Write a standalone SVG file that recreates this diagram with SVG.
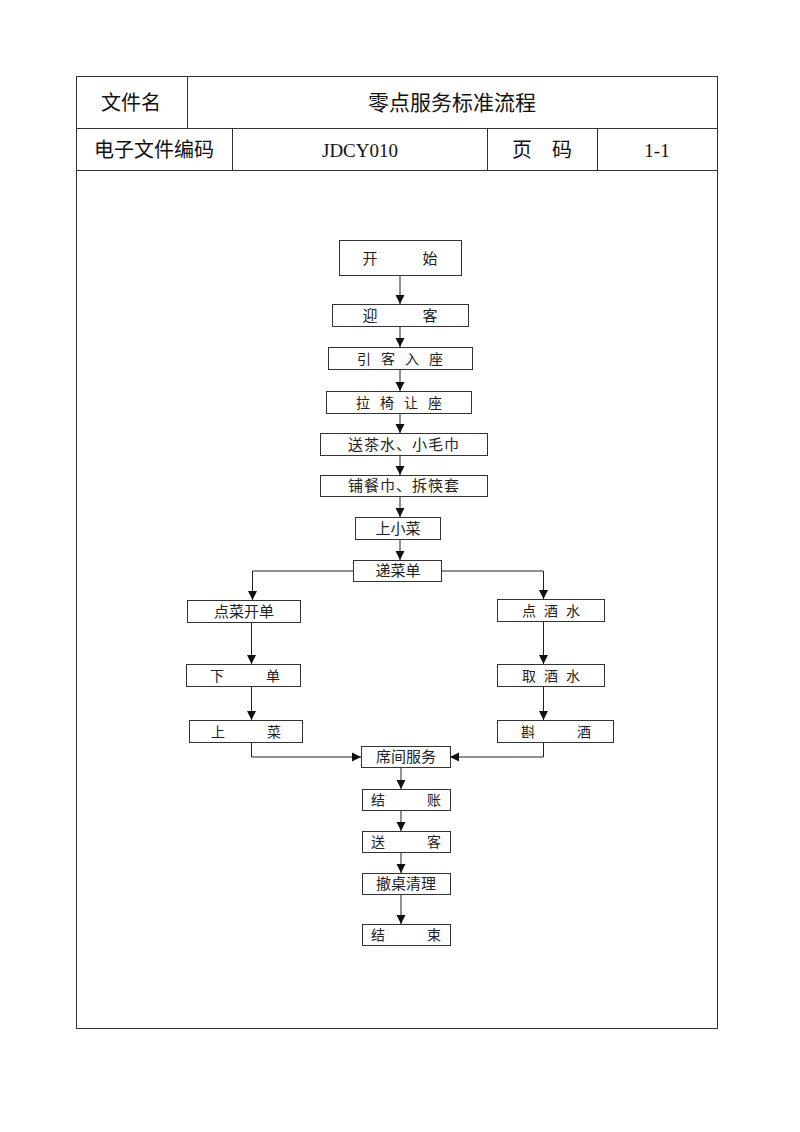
<svg xmlns="http://www.w3.org/2000/svg" width="800" height="1132" viewBox="0 0 800 1132">
<style>
.tbl{fill:none;stroke:#333;stroke-width:1}
.hd{font-family:"Noto Sans CJK SC",sans-serif;font-size:20px;fill:#111;text-anchor:middle}
.hs{font-family:"Liberation Serif","Noto Sans CJK SC",serif;font-size:19px;fill:#111;text-anchor:middle}
.box{fill:#fff;stroke:#333;stroke-width:1}
.lb{font-family:"Liberation Serif","Noto Sans CJK SC",serif;font-size:14px;fill:#222;text-anchor:middle}
.cn{fill:none;stroke:#222;stroke-width:1;marker-end:url(#ah)}
</style>
<defs>
<marker id="ah" markerWidth="10" markerHeight="10" refX="9" refY="5" orient="auto" markerUnits="userSpaceOnUse">
<path d="M0,0.5 L9,5 L0,9.5 Z" fill="#111"/>
</marker>
</defs>
<rect width="800" height="1132" fill="#fff"/>
<g id="header">
<rect class="tbl" x="76.5" y="76.5" width="641" height="952"/>
<line class="tbl" x1="76" y1="128.5" x2="717" y2="128.5"/>
<line class="tbl" x1="76" y1="170.5" x2="717" y2="170.5"/>
<line class="tbl" x1="187.5" y1="76" x2="187.5" y2="128"/>
<line class="tbl" x1="232.5" y1="128" x2="232.5" y2="170"/>
<line class="tbl" x1="487.5" y1="128" x2="487.5" y2="170"/>
<line class="tbl" x1="597.5" y1="128" x2="597.5" y2="170"/>
<text class="hd" x="131" y="110">文件名</text>
<text class="hd" x="452" y="110" style="font-size:21px">零点服务标准流程</text>
<text class="hd" x="154" y="157">电子文件编码</text>
<text class="hs" x="360" y="157">JDCY010</text>
<text class="hd" x="542" y="157">页　码</text>
<text class="hs" x="657" y="157">1-1</text>
</g>
<g id="connectors">
<line class="cn" x1="400" y1="276" x2="400" y2="304"/>
<line class="cn" x1="400" y1="327" x2="400" y2="347"/>
<line class="cn" x1="400" y1="370" x2="400" y2="391"/>
<line class="cn" x1="400" y1="414" x2="400" y2="433"/>
<line class="cn" x1="400" y1="456" x2="400" y2="475"/>
<line class="cn" x1="400" y1="497" x2="400" y2="517"/>
<line class="cn" x1="400" y1="540" x2="400" y2="560"/>
<polyline class="cn" points="353,571 252.5,571 252.5,600"/>
<polyline class="cn" points="441,571 543.5,571 543.5,599"/>
<line class="cn" x1="251.5" y1="623" x2="251.5" y2="664"/>
<line class="cn" x1="251.5" y1="687" x2="251.5" y2="720"/>
<polyline class="cn" points="251.5,743 251.5,757 361,757"/>
<line class="cn" x1="543.5" y1="622" x2="543.5" y2="664"/>
<line class="cn" x1="543.5" y1="687" x2="543.5" y2="720"/>
<polyline class="cn" points="543.5,743 543.5,757 450,757"/>
<line class="cn" x1="401" y1="768" x2="401" y2="789"/>
<line class="cn" x1="401" y1="811" x2="401" y2="831"/>
<line class="cn" x1="401" y1="853" x2="401" y2="873"/>
<line class="cn" x1="401" y1="895" x2="401" y2="924"/>
</g>
<g id="n-start"><rect class="box" x="339.5" y="240.5" width="122" height="35"/><text class="lb" x="400" y="264" style="font-size:15px">开　　　始</text></g>
<g id="n-greet"><rect class="box" x="332.5" y="304.5" width="136" height="22"/><text class="lb" x="400" y="321" style="font-size:15px">迎　　　客</text></g>
<g id="n-seat"><rect class="box" x="328.5" y="347.5" width="144" height="22"/><text class="lb" x="405" y="364" letter-spacing="10">引客入座</text></g>
<g id="n-chair"><rect class="box" x="326.5" y="391.5" width="145" height="22"/><text class="lb" x="404" y="408" letter-spacing="10">拉椅让座</text></g>
<g id="n-tea"><rect class="box" x="320.5" y="433.5" width="167" height="22"/><text class="lb" x="404" y="450" style="font-size:15px" letter-spacing="1">送茶水、小毛巾</text></g>
<g id="n-napkin"><rect class="box" x="320.5" y="475.5" width="167" height="21"/><text class="lb" x="404" y="491" style="font-size:15px" letter-spacing="1">铺餐巾、拆筷套</text></g>
<g id="n-dish"><rect class="box" x="355.5" y="517.5" width="85" height="22"/><text class="lb" x="398" y="534" style="font-size:15px">上小菜</text></g>
<g id="n-menu"><rect class="box" x="353.5" y="560.5" width="88" height="21"/><text class="lb" x="398" y="576" style="font-size:15px">递菜单</text></g>
<g id="n-order"><rect class="box" x="187.5" y="600.5" width="113" height="22"/><text class="lb" x="244" y="617" style="font-size:15px">点菜开单</text></g>
<g id="n-place"><rect class="box" x="186.5" y="664.5" width="114" height="22"/><text class="lb" x="245" y="681">下　　　单</text></g>
<g id="n-serve"><rect class="box" x="189.5" y="720.5" width="113" height="22"/><text class="lb" x="246" y="737">上　　　菜</text></g>
<g id="n-drink"><rect class="box" x="497.5" y="599.5" width="107" height="22"/><text class="lb" x="555" y="616" letter-spacing="8">点酒水</text></g>
<g id="n-fetch"><rect class="box" x="497.5" y="664.5" width="107" height="22"/><text class="lb" x="555" y="681" letter-spacing="8">取酒水</text></g>
<g id="n-pour"><rect class="box" x="497.5" y="720.5" width="116" height="22"/><text class="lb" x="556" y="737">斟　　　酒</text></g>
<g id="n-service"><rect class="box" x="361.5" y="746.5" width="89" height="21"/><text class="lb" x="406" y="762" style="font-size:15px">席间服务</text></g>
<g id="n-pay"><rect class="box" x="362.5" y="789.5" width="88" height="21"/><text class="lb" x="406" y="805">结　　　账</text></g>
<g id="n-bye"><rect class="box" x="362.5" y="831.5" width="88" height="21"/><text class="lb" x="406" y="847">送　　　客</text></g>
<g id="n-clear"><rect class="box" x="362.5" y="873.5" width="88" height="21"/><text class="lb" x="406" y="889" style="font-size:15px">撤桌清理</text></g>
<g id="n-end"><rect class="box" x="362.5" y="924.5" width="88" height="21"/><text class="lb" x="406" y="940">结　　　束</text></g>
</svg>
